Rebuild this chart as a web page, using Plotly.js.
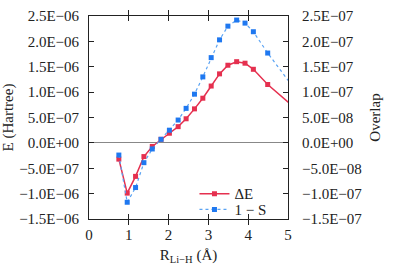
<!DOCTYPE html>
<html>
<head>
<meta charset="utf-8">
<script src="https://cdn.plot.ly/plotly-3.0.1.min.js"></script>
<style>
  html, body { margin: 0; padding: 0; background: #fff; }
  #chart { width: 399px; height: 279px; }
</style>
</head>
<body>
<div id="chart"></div>
<script>
// distance R(Li-H) in Angstrom
const rValues = [0.75, 0.96, 1.17, 1.38, 1.59, 1.81, 2.02, 2.24, 2.44, 2.65, 2.86, 3.07, 3.28, 3.49, 3.71, 3.92, 4.13, 4.49, 5.1];
// Delta E in Hartree (left axis)
const deltaE = [-3.2e-7, -9.9e-7, -6.6e-7, -2.7e-7, -0.7e-7, 0.7e-7, 1.9e-7, 3.2e-7, 4.75e-7, 6.7e-7, 8.8e-7, 1.12e-6, 1.36e-6, 1.53e-6, 1.60e-6, 1.57e-6, 1.45e-6, 1.15e-6, 0.74e-6];
// 1 - S overlap (right axis)
const overlap = [-2.4e-8, -1.17e-7, -8.8e-8, -3.9e-8, -1.2e-8, 0.7e-8, 2.5e-8, 4.5e-8, 6.8e-8, 9.6e-8, 1.30e-7, 1.68e-7, 2.03e-7, 2.30e-7, 2.42e-7, 2.36e-7, 2.19e-7, 1.77e-7, 1.13e-7];

const leftTicks = [-1.5e-6, -1e-6, -5e-7, 0, 5e-7, 1e-6, 1.5e-6, 2e-6, 2.5e-6];
const leftLabels = ["−1.5E−06", "−1.0E−06", "−5.0E−07", "0.0E+00", "5.0E−07", "1.0E−06", "1.5E−06", "2.0E−06", "2.5E−06"];
const rightTicks = [-1.5e-7, -1e-7, -5e-8, 0, 5e-8, 1e-7, 1.5e-7, 2e-7, 2.5e-7];
const rightLabels = ["−1.5E−07", "−1.0E−07", "−5.0E−08", "0.0E+00", "5.0E−08", "1.0E−07", "1.5E−07", "2.0E−07", "2.5E−07"];

const serif = "Liberation Serif, Times New Roman, serif";

const traces = [
    {
        x: rValues,
        y: deltaE,
        name: "ΔE",
        type: "scatter",
        mode: "lines+markers",
        line: {color: "#e5304f", width: 1.5},
        marker: {color: "#e5304f", symbol: "square", size: 5},
        cliponaxis: true,
        legend: "legend",
    },
    {
        x: rValues,
        y: overlap,
        name: "1 − S",
        yaxis: "y2",
        type: "scatter",
        mode: "lines+markers",
        line: {color: "#5aa3f3", width: 1.2, dash: "dot"},
        marker: {color: "#1f78f0", symbol: "square", size: 5},
        cliponaxis: true,
        legend: "legend2",
    },
];

// one legend box per row, so the rows can sit as close as in the original
const legendBox = (y) => ({
    x: 0.53, y: y, xanchor: "left", yanchor: "top",
    bgcolor: "rgba(0,0,0,0)",
    font: {family: serif, size: 15, color: "#222"},
});

const layout = {
    width: 399,
    height: 279,
    margin: {l: 89, r: 111, t: 16, b: 60},
    paper_bgcolor: "#fff",
    plot_bgcolor: "#fff",
    font: {family: serif, size: 15, color: "#222"},
    showlegend: true,
    legend: legendBox(0.205),
    legend2: legendBox(0.127),
    xaxis: {
        range: [0, 5],
        tickvals: [0, 1, 2, 3, 4, 5],
        ticks: "inside", ticklen: 5, tickcolor: "#222",
        ticklabelstandoff: 2,
        showline: true, linecolor: "#222", linewidth: 1, mirror: "allticks",
        showgrid: false, zeroline: false,
        title: {text: "R<sub>Li−H</sub> (Å)", font: {family: serif, size: 15}, standoff: 7},
    },
    yaxis: {
        range: [-1.5e-6, 2.5e-6],
        tickvals: leftTicks, ticktext: leftLabels,
        ticks: "inside", ticklen: 5, tickcolor: "#222",
        ticklabelstandoff: 6,
        showline: true, linecolor: "#222", linewidth: 1,
        showgrid: false,
        zeroline: true, zerolinecolor: "#888", zerolinewidth: 1,
        title: {text: "E (Hartree)", font: {family: serif, size: 15}, standoff: 2},
    },
    yaxis2: {
        overlaying: "y",
        side: "right",
        range: [-1.5e-7, 2.5e-7],
        tickvals: rightTicks, ticktext: rightLabels,
        ticks: "inside", ticklen: 5, tickcolor: "#222",
        ticklabelstandoff: 10,
        showline: true, linecolor: "#222", linewidth: 1,
        showgrid: false, zeroline: false,
        title: {text: "Overlap", font: {family: serif, size: 15}, standoff: 8},
    },
};

Plotly.newPlot("chart", traces, layout, {staticPlot: true, displayModeBar: false});
</script>
</body>
</html>
